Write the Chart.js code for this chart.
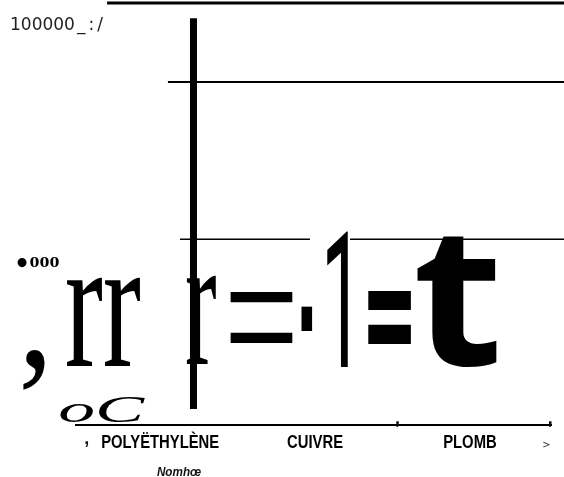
<!DOCTYPE html>
<html>
<head>
<meta charset="utf-8">
<script src="https://cdn.jsdelivr.net/npm/chart.js@4/dist/chart.umd.min.js"></script>
<style>
  html, body { margin: 0; padding: 0; background: #fff; }
  #wrap { width: 564px; height: 477px; }
</style>
</head>
<body>
<div id="wrap"><canvas id="chart"></canvas></div>
<script>
var categories = ['POLYËTHYLÈNE', 'CUIVRE', 'PLOMB'];
var xTitle = 'Nomhœ';
var yTickValues = [100000, 44000];
var yTickLabels = ['100000_:/', '\u2022 000'];
var gridValues = [100000, 81300, 44000, 0];

// the thick vertical stroke
var stemX = 0.215;
var stemValues = [96400, 3800];

// big characters standing in the plot, each over an x span and a value span
var glyphs    = [',', 'rr', 'r', '=', '\u00b7', '1', '=', 't', 'oC'];
var glyphFrom = [-0.886, -0.602, 0.173, 0.451, 0.909, 1.077, 1.342, 1.658, -0.647];
var glyphTo   = [-0.744, -0.130, 0.360, 0.858, 0.981, 1.213, 1.620, 2.175, -0.098];
var glyphLow  = [8300, 13700, 14200, 19400, 22500, 13700, 19200, 13700, 700];
var glyphHigh = [17800, 34800, 35100, 31500, 28400, 46000, 31800, 44600, 6600];

var glyphFonts = [
  '200px "Liberation Serif"',
  '200px "Liberation Serif"',
  '200px "Liberation Serif"',
  '200px "Liberation Serif"',
  '200px "Liberation Sans"',
  '200px Roboto',
  'bold 200px "Open Sans"',
  'bold 200px "Open Sans"',
  'italic 200px "Liberation Serif"'
];

function fitText(ctx, text, font, x0, x1, y0, y1) {
  ctx.save();
  ctx.font = font;
  ctx.textAlign = 'left';
  ctx.textBaseline = 'alphabetic';
  var m = ctx.measureText(text);
  var w = m.actualBoundingBoxLeft + m.actualBoundingBoxRight;
  var h = m.actualBoundingBoxAscent + m.actualBoundingBoxDescent;
  ctx.translate(Math.min(x0, x1), Math.min(y0, y1));
  ctx.scale(Math.abs(x1 - x0) / w, Math.abs(y1 - y0) / h);
  ctx.fillText(text, m.actualBoundingBoxLeft, m.actualBoundingBoxAscent);
  ctx.restore();
}

function drawText(ctx, text, font, x, y, sx, align, color) {
  ctx.save();
  ctx.font = font;
  ctx.fillStyle = color || '#000';
  ctx.textAlign = align || 'left';
  ctx.textBaseline = 'alphabetic';
  ctx.translate(x, y);
  ctx.scale(sx || 1, 1);
  ctx.fillText(text, 0, 0);
  ctx.restore();
}

var gridPlugin = {
  id: 'grid',
  beforeDatasetsDraw: function (chart) {
    var ctx = chart.ctx, xs = chart.scales.x, ys = chart.scales.y;
    // [index into gridValues, from x, to x (null = page edge), width]
    var segs = [
      [0, -0.343, null, 3],
      [1, 0.05, null, 2],
      [2, 0.128, 0.967, 1.5],
      [2, 1.226, null, 1.5],
      [3, -0.55, 2.53, 2]
    ];
    ctx.save();
    ctx.strokeStyle = '#000';
    segs.forEach(function (s) {
      var y = ys.getPixelForValue(gridValues[s[0]]);
      ctx.lineWidth = s[3];
      ctx.beginPath();
      ctx.moveTo(xs.getPixelForValue(s[1]), y);
      ctx.lineTo(s[2] === null ? chart.width : xs.getPixelForValue(s[2]), y);
      ctx.stroke();
    });
    ctx.restore();
  },
  afterDatasetsDraw: function (chart) {
    var ctx = chart.ctx, xs = chart.scales.x, ys = chart.scales.y;
    ctx.save();
    ctx.fillStyle = '#000';
    glyphs.forEach(function (g, i) {
      fitText(ctx, g, glyphFonts[i],
        xs.getPixelForValue(glyphFrom[i]), xs.getPixelForValue(glyphTo[i]),
        ys.getPixelForValue(glyphHigh[i]), ys.getPixelForValue(glyphLow[i]));
    });

    // y tick labels
    var y0 = ys.getPixelForValue(yTickValues[0]);
    var top = yTickLabels[0];
    drawText(ctx, top.slice(0, 6), '17px "DejaVu Sans"', 10, y0 + 26.5, 1, 'left', '#222');
    ctx.letterSpacing = '3px';
    drawText(ctx, top.slice(6), '17px "DejaVu Sans"', 77, y0 + 26.5, 1, 'left', '#222');
    ctx.letterSpacing = '0px';

    var y1 = ys.getPixelForValue(yTickValues[1]);
    var mid = yTickLabels[1];
    fitText(ctx, mid.slice(0, 1), 'bold 40px "Liberation Serif"', 17, 27, y1 + 18, y1 + 28);
    fitText(ctx, mid.slice(2), 'bold 40px "Liberation Serif"', 30, 59, y1 + 18, y1 + 28);

    // category labels and tick commas
    var base = ys.getPixelForValue(0);
    categories.forEach(function (c, i) {
      drawText(ctx, c, 'bold 19px "Liberation Sans"', xs.getPixelForValue(i), base + 23, 0.78, 'center', '#000');
    });
    drawText(ctx, ',', 'bold 18px "Liberation Sans"', xs.getPixelForValue(-0.5) + 4, base + 19, 1, 'center', '#111');
    drawText(ctx, ',', 'bold 18px "Liberation Sans"', xs.getPixelForValue(1.5) + 5, base - 1, 1, 'center', '#111');
    drawText(ctx, ',', 'bold 18px "Liberation Sans"', xs.getPixelForValue(2.5) + 3, base - 1, 1, 'center', '#111');
    drawText(ctx, '>', '10px "DejaVu Sans"', xs.getPixelForValue(2.5) - 1, base + 23, 1, 'center', '#333');

    // axis title
    drawText(ctx, xTitle, 'italic bold 13px "Liberation Sans"', chart.chartArea.left + 104, base + 51, 0.9, 'center', '#111');
    ctx.restore();
  }
};

var ctx = document.getElementById('chart').getContext('2d');
var chart = new Chart(ctx, {
  type: 'scatter',
  data: {
    datasets: [{
      data: [{ x: stemX, y: stemValues[0] }, { x: stemX, y: stemValues[1] }],
      showLine: true,
      borderColor: '#000',
      borderWidth: 7,
      borderCapStyle: 'butt',
      pointRadius: 0
    }]
  },
  options: {
    responsive: true,
    maintainAspectRatio: false,
    animation: false,
    layout: { padding: { left: 75, right: 12, top: 3, bottom: 52 } },
    plugins: { legend: { display: false }, tooltip: { enabled: false } },
    scales: {
      x: { type: 'linear', min: -0.55, max: 2.53, display: false },
      y: { min: 0, max: 100000, display: false }
    }
  },
  plugins: [gridPlugin]
});
</script>
</body>
</html>
